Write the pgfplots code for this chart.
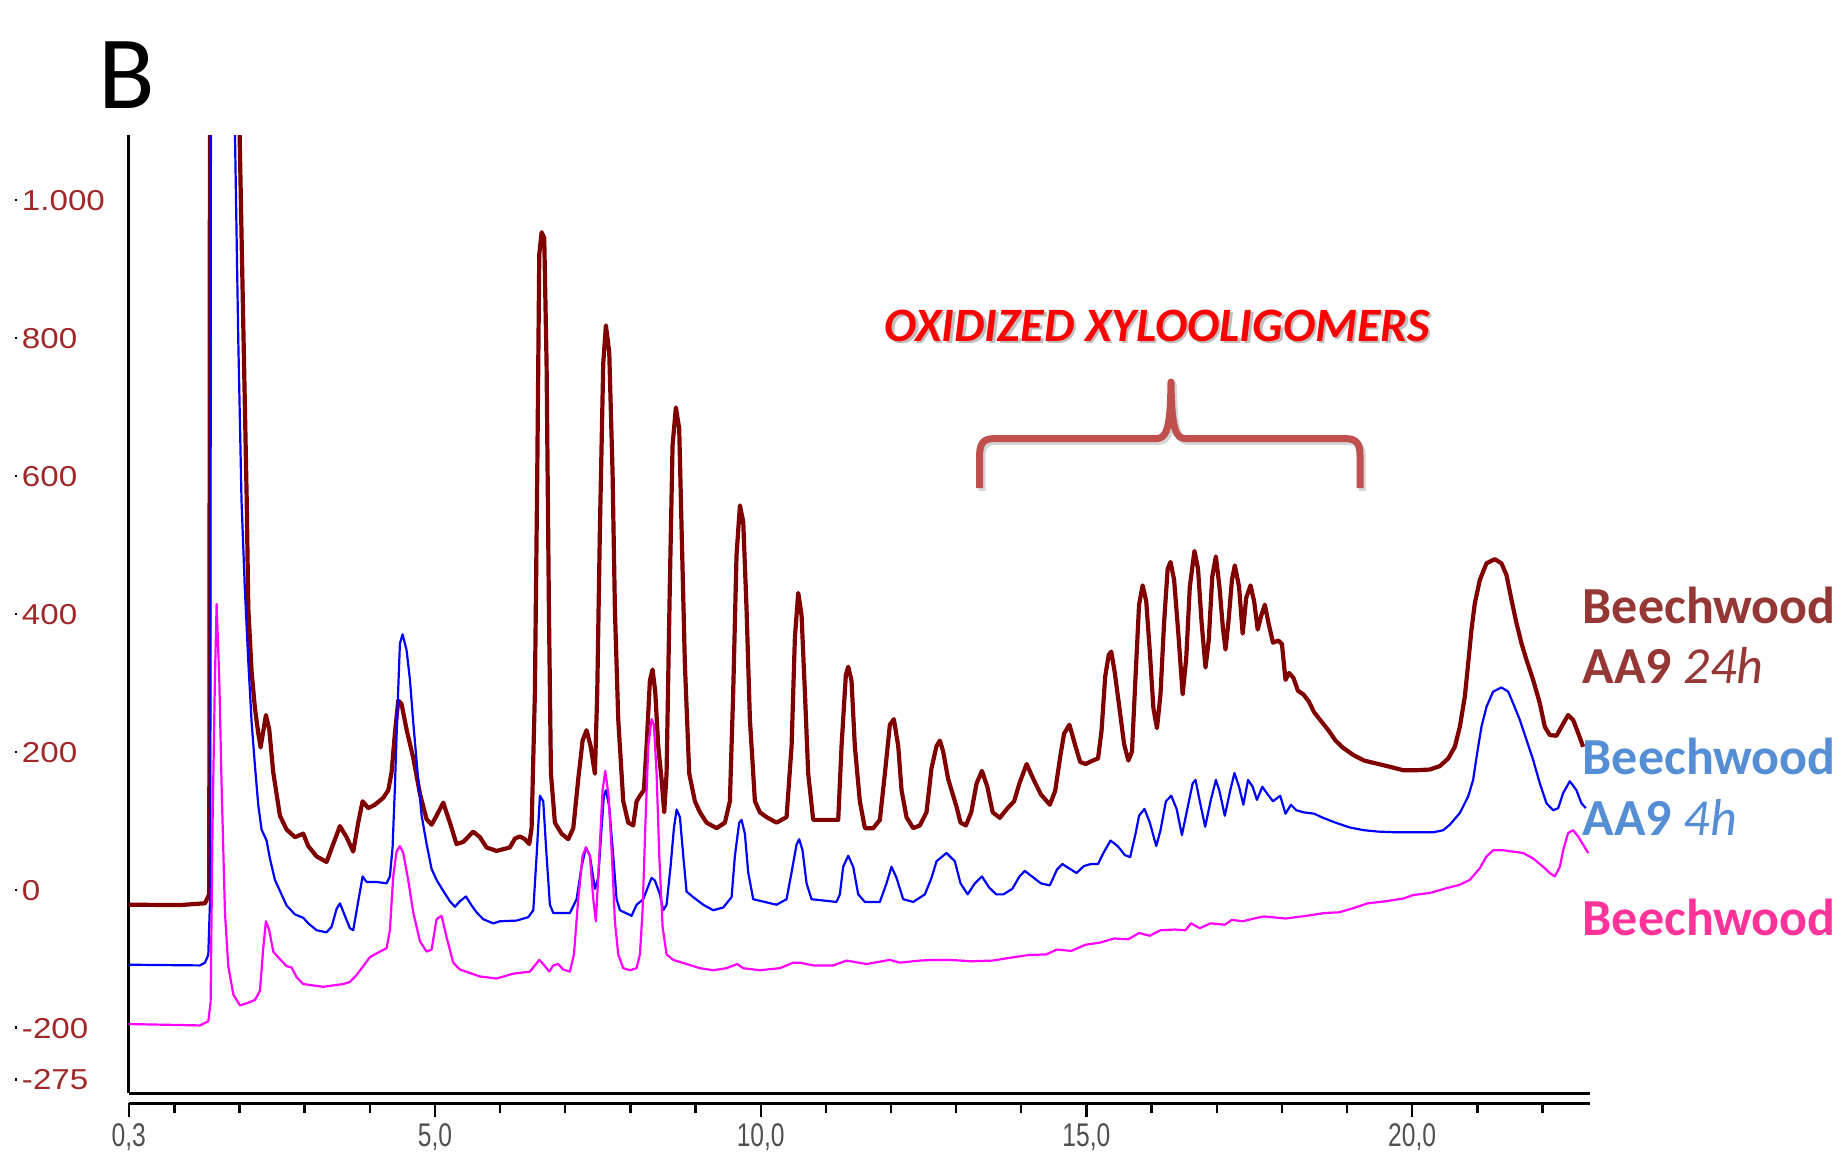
\documentclass[border=0pt]{standalone}
\usepackage{pgfplots}
\pgfplotsset{compat=1.18}
\usepackage{fontspec}
\setmainfont{Carlito}
\newfontfamily\xtickfont[FakeStretch=0.75]{Liberation Sans}
\newfontfamily\ytickfont[FakeStretch=1.15]{Liberation Sans}
\definecolor{trbrown}{RGB}{128,0,0}
\definecolor{trblue}{RGB}{0,0,255}
\definecolor{trpink}{RGB}{255,0,255}
\definecolor{labbrown}{RGB}{149,55,53}
\definecolor{labblue}{RGB}{85,142,213}
\definecolor{labpink}{RGB}{255,51,153}
\definecolor{bracecol}{RGB}{192,80,77}
\definecolor{ylab}{RGB}{160,40,40}
\definecolor{xlab}{RGB}{80,80,80}
\newcommand\yl[1]{\textcolor{black}{\raisebox{2.3pt}{\rule{0.6pt}{0.6pt}}}\hspace{1.2pt}#1}
\begin{document}
\begin{tikzpicture}[x=1pt,y=1pt]
\path (0,0) rectangle (461,293);
\begin{axis}[
  at={(32.2pt,19.75pt)}, anchor=south west,
  scale only axis, width=365.3pt, height=239.5pt,
  xmin=0.3, xmax=22.73, ymin=-294, ymax=1095,
  axis x line*=bottom, axis y line*=left,
  axis line style={line width=0.75pt, black, -},
  tick align=inside,
  xtick={0.3,5,10,15,20},
  xticklabels={{0,3},{5,0},{10,0},{15,0},{20,0}},
  minor xtick={1,2,3,4,6,7,8,9,11,12,13,14,16,17,18,19,21,22},
  major tick length=3.6pt, minor tick length=2.6pt,
  major x tick style={yshift=-6.1pt, line width=0.6pt, black},
  minor x tick style={yshift=-5.1pt, line width=0.6pt, black},
  xticklabel style={anchor=north, inner sep=0pt, yshift=-7.5pt, font=\xtickfont\fontsize{8.2}{9}\selectfont, text=xlab},
  ytick={-275,-200,0,200,400,600,800,1000},
  yticklabels={\yl{-275},\yl{-200},\yl{0},\yl{200},\yl{400},\yl{600},\yl{800},\yl{1.000}},
  ytick style={draw=none},
  yticklabel style={anchor=west, inner sep=0pt, xshift=-28.7pt, font=\ytickfont\fontsize{7.2}{8}\selectfont, text=ylab},
]
\addplot[trbrown, line width=1.05pt, line join=round] coordinates {
(0.3,-21) (1.085,-21.5) (1.469,-18.9) (1.535,-5.9) (1.55,1600) (1.96,1600) (1.98,1200) (2.04,904) (2.09,663) (2.11,566) (2.134,410) (2.185,317) (2.236,264) (2.287,228) (2.323,207) (2.405,254) (2.456,233) (2.517,171) (2.62,108) (2.722,88) (2.85,77) (2.978,82) (3.055,64) (3.183,49) (3.336,41) (3.438,67) (3.541,93) (3.643,77) (3.745,56) (3.822,98) (3.889,129) (3.976,119) (4.078,124) (4.206,134) (4.283,145) (4.334,171) (4.385,228) (4.436,275) (4.487,270) (4.564,233) (4.666,192) (4.769,140) (4.871,103) (4.948,95) (5.024,108) (5.127,127) (5.229,98) (5.331,67) (5.434,70) (5.587,85) (5.689,77) (5.792,62) (5.945,57) (6.15,62) (6.227,75) (6.304,78) (6.381,74) (6.447,67) (6.483,90) (6.534,288) (6.57,605) (6.601,922) (6.637,954) (6.677,946) (6.713,764) (6.749,407) (6.78,169) (6.841,98) (6.943,82) (7.046,74) (7.123,90) (7.199,161) (7.266,217) (7.327,232) (7.389,209) (7.455,169) (7.491,288) (7.532,526) (7.583,764) (7.624,819) (7.675,780) (7.726,605) (7.762,407) (7.813,248) (7.89,129) (7.967,98) (8.043,94) (8.095,129) (8.146,137) (8.207,145) (8.248,209) (8.299,304) (8.34,320) (8.381,288) (8.427,209) (8.478,161) (8.519,113) (8.555,169) (8.606,447) (8.647,645) (8.698,700) (8.749,669) (8.785,526) (8.836,328) (8.903,169) (8.99,129) (9.067,113) (9.169,98) (9.323,90) (9.45,98) (9.527,129) (9.578,288) (9.629,486) (9.681,558) (9.732,534) (9.783,407) (9.834,248) (9.911,129) (9.988,113) (10.09,106) (10.243,98) (10.397,106) (10.474,209) (10.525,367) (10.576,431) (10.627,399) (10.678,288) (10.729,169) (10.806,102) (10.985,102) (11.19,102) (11.241,209) (11.307,312) (11.343,324) (11.394,304) (11.445,209) (11.522,129) (11.599,90) (11.727,90) (11.829,102) (11.906,169) (11.983,240) (12.044,248) (12.111,209) (12.162,145) (12.238,106) (12.341,90) (12.443,94) (12.545,113) (12.622,177) (12.699,209) (12.75,217) (12.801,201) (12.878,161) (13.006,121) (13.067,98) (13.15,94) (13.232,113) (13.314,155) (13.396,173) (13.479,150) (13.561,113) (13.67,105) (13.78,118) (13.89,129) (13.972,155) (14.082,183) (14.191,160) (14.301,139) (14.438,124) (14.52,144) (14.602,196) (14.657,227) (14.739,240) (14.822,212) (14.904,186) (14.986,183) (15.096,188) (15.178,191) (15.233,232) (15.288,310) (15.342,341) (15.381,346) (15.436,315) (15.507,264) (15.578,212) (15.644,188) (15.699,201) (15.754,310) (15.808,414) (15.863,442) (15.918,419) (15.973,346) (16.028,264) (16.083,235) (16.137,284) (16.192,388) (16.247,466) (16.291,476) (16.346,450) (16.411,372) (16.477,284) (16.532,336) (16.587,440) (16.658,492) (16.713,466) (16.768,388) (16.828,323) (16.877,362) (16.932,455) (16.987,484) (17.042,440) (17.097,378) (17.135,349) (17.179,388) (17.234,450) (17.278,471) (17.343,440) (17.398,372) (17.453,424) (17.519,442) (17.574,419) (17.629,378) (17.683,398) (17.738,414) (17.793,388) (17.864,359) (17.946,362) (18.001,357) (18.056,305) (18.111,315) (18.177,308) (18.248,289) (18.33,284) (18.412,274) (18.495,258) (18.604,245) (18.714,232) (18.824,217) (18.933,207) (19.098,196) (19.262,188) (19.482,183) (19.657,179) (19.862,174) (20.067,174) (20.271,175) (20.425,180) (20.553,191) (20.655,208) (20.732,237) (20.809,281) (20.86,329) (20.911,378) (20.962,416) (21.039,450) (21.141,474) (21.269,480) (21.371,474) (21.448,457) (21.525,421) (21.602,387) (21.678,358) (21.755,334) (21.857,305) (21.96,271) (22.036,237) (22.113,225) (22.215,224) (22.292,237) (22.394,254) (22.471,247) (22.548,228) (22.625,208)
};
\addplot[trblue, line width=0.55pt, line join=round] coordinates {
(0.3,-108) (1.392,-109) (1.469,-105) (1.52,-94) (1.545,-21) (1.56,1600) (1.90,1600) (1.93,1095) (1.98,800) (2.03,566) (2.08,440) (2.134,332) (2.185,244) (2.236,181) (2.287,124) (2.338,88) (2.415,72) (2.466,46) (2.543,15) (2.62,-1) (2.722,-22) (2.85,-35) (2.978,-40) (3.055,-48) (3.183,-58) (3.336,-61) (3.413,-53) (3.49,-27) (3.541,-19) (3.617,-37) (3.694,-55) (3.745,-58) (3.822,-16) (3.889,20) (3.95,12) (4.103,12) (4.257,10) (4.308,20) (4.349,62) (4.385,150) (4.421,254) (4.462,358) (4.503,371) (4.564,348) (4.615,306) (4.666,244) (4.728,176) (4.794,109) (4.871,67) (4.948,31) (5.024,15) (5.127,-1) (5.229,-16) (5.306,-24) (5.383,-16) (5.475,-9) (5.562,-22) (5.638,-32) (5.741,-42) (5.894,-48) (5.997,-45) (6.253,-44) (6.432,-39) (6.509,-29) (6.56,50) (6.611,137) (6.662,129) (6.713,50) (6.764,-21) (6.816,-33) (7.071,-33) (7.174,-13) (7.25,34) (7.317,62) (7.378,50) (7.455,2) (7.506,18) (7.557,90) (7.593,137) (7.624,145) (7.675,121) (7.736,50) (7.788,-13) (7.839,-29) (8.018,-37) (8.095,-21) (8.197,-13) (8.274,6) (8.325,18) (8.376,14) (8.453,-6) (8.504,-29) (8.555,-21) (8.616,34) (8.668,90) (8.709,117) (8.76,106) (8.811,50) (8.862,-2) (8.964,-10) (9.118,-21) (9.271,-29) (9.425,-25) (9.553,-10) (9.604,50) (9.67,98) (9.706,102) (9.757,82) (9.808,26) (9.885,-13) (10.243,-21) (10.397,-13) (10.474,26) (10.55,66) (10.591,74) (10.642,58) (10.704,10) (10.78,-13) (11.164,-17) (11.215,-6) (11.266,34) (11.343,50) (11.42,34) (11.497,-6) (11.599,-17) (11.829,-17) (11.931,10) (12.008,34) (12.085,18) (12.187,-13) (12.341,-17) (12.52,-6) (12.622,18) (12.699,42) (12.852,54) (12.98,42) (13.067,10) (13.177,-6) (13.287,10) (13.396,20) (13.506,4) (13.616,-6) (13.725,-6) (13.862,2) (13.972,20) (14.054,28) (14.164,20) (14.301,10) (14.438,7) (14.548,30) (14.63,38) (14.712,33) (14.849,25) (14.959,35) (15.068,38) (15.178,38) (15.26,54) (15.37,72) (15.48,64) (15.589,51) (15.671,48) (15.754,82) (15.808,108) (15.891,118) (15.973,98) (16.072,64) (16.137,87) (16.22,129) (16.302,137) (16.384,118) (16.466,80) (16.549,118) (16.631,155) (16.675,160) (16.74,129) (16.823,92) (16.905,129) (16.987,160) (17.042,144) (17.124,108) (17.206,144) (17.272,170) (17.343,150) (17.409,124) (17.481,160) (17.552,150) (17.617,131) (17.7,150) (17.782,139) (17.864,129) (17.974,137) (18.056,111) (18.139,124) (18.221,116) (18.33,113) (18.495,111) (18.632,105) (18.824,98) (19.043,91) (19.262,87) (19.482,85) (19.76,84) (20.016,84) (20.323,84) (20.476,87) (20.578,95) (20.732,112) (20.86,136) (20.936,160) (20.998,199) (21.064,237) (21.141,266) (21.243,288) (21.371,294) (21.474,288) (21.55,271) (21.653,247) (21.755,218) (21.857,189) (21.96,155) (22.062,126) (22.164,116) (22.241,119) (22.318,141) (22.42,158) (22.522,145) (22.599,126) (22.666,119)
};
\addplot[trpink, line width=0.55pt, line join=round] coordinates {
(0.3,-194) (1.392,-196) (1.52,-190) (1.556,-162) (1.586,98) (1.622,306) (1.648,415) (1.689,306) (1.725,150) (1.776,-32) (1.827,-110) (1.904,-151) (2.006,-167) (2.108,-164) (2.236,-159) (2.313,-146) (2.364,-84) (2.405,-45) (2.456,-58) (2.517,-89) (2.62,-100) (2.722,-110) (2.799,-112) (2.876,-126) (2.978,-136) (3.131,-138) (3.285,-140) (3.438,-138) (3.592,-136) (3.694,-133) (3.796,-123) (3.899,-110) (4.001,-97) (4.155,-89) (4.257,-84) (4.308,-58) (4.359,20) (4.41,56) (4.462,64) (4.513,54) (4.589,15) (4.666,-32) (4.769,-74) (4.871,-89) (4.948,-86) (5.024,-42) (5.101,-37) (5.178,-68) (5.28,-105) (5.383,-115) (5.536,-120) (5.689,-125) (5.945,-128) (6.2,-121) (6.457,-118) (6.534,-109) (6.601,-101) (6.662,-107) (6.754,-118) (6.816,-109) (6.892,-107) (6.969,-115) (7.071,-118) (7.133,-93) (7.199,-13) (7.266,50) (7.317,62) (7.378,50) (7.43,-13) (7.47,-45) (7.522,50) (7.573,145) (7.614,173) (7.665,137) (7.716,50) (7.762,-45) (7.813,-93) (7.89,-113) (7.992,-116) (8.095,-113) (8.146,-93) (8.187,-29) (8.228,90) (8.274,209) (8.325,248) (8.361,240) (8.402,169) (8.443,50) (8.494,-53) (8.555,-93) (8.657,-101) (8.862,-107) (9.067,-113) (9.271,-116) (9.476,-113) (9.64,-107) (9.732,-113) (9.987,-116) (10.294,-113) (10.499,-105) (10.601,-105) (10.806,-109) (11.113,-109) (11.318,-102) (11.625,-107) (11.983,-101) (12.136,-105) (12.443,-102) (12.648,-101) (12.904,-101) (13.232,-103) (13.561,-102) (13.89,-97) (14.109,-94) (14.383,-93) (14.548,-86) (14.767,-88) (14.986,-79) (15.205,-76) (15.425,-70) (15.644,-71) (15.808,-62) (15.973,-66) (16.137,-58) (16.357,-57) (16.521,-58) (16.603,-48) (16.74,-55) (16.905,-48) (17.124,-50) (17.234,-43) (17.398,-45) (17.617,-40) (17.727,-38) (18.056,-41) (18.385,-37) (18.659,-33) (18.878,-32) (19.098,-26) (19.317,-19) (19.591,-16) (19.865,-12) (20.016,-7) (20.271,-4) (20.527,3) (20.732,8) (20.885,15) (21.039,32) (21.141,49) (21.243,58) (21.397,58) (21.55,56) (21.704,54) (21.857,46) (22.011,34) (22.113,25) (22.19,20) (22.267,34) (22.318,58) (22.394,83) (22.471,87) (22.548,78) (22.625,66) (22.702,54)
};
\end{axis}
% ruler line below the axis box
\draw[line width=0.75pt, black] (32.2,17.25) -- (397.5,17.25);
% panel letter
\node[font=\fontsize{26}{30}\selectfont, anchor=center, inner sep=0pt] at (31.75,274.25) {B};
% annotation
\node[font=\bfseries\itshape\fontsize{12}{15}\selectfont, text=black!50, opacity=0.5, inner sep=0pt] at (289.9,211.0) {OXIDIZED XYLOOLIGOMERS};
\node[font=\bfseries\itshape\fontsize{12}{15}\selectfont, text=red, inner sep=0pt] at (289.3,211.6) {OXIDIZED XYLOOLIGOMERS};
\draw[black!40, opacity=0.4, line width=1.75pt, line join=round, shift={(0.6,-0.7)}]
 (244.9,171) -- (244.9,179.1) .. controls (244.9,182.1) and (245.8,183.35) .. (248.5,183.35) -- (289,183.35) .. controls (291.5,183.35) and (292.6,185.3) .. (292.75,197.5) .. controls (292.9,185.3) and (294,183.35) .. (296.5,183.35) -- (336.4,183.35) .. controls (339.1,183.35) and (340,182.1) .. (340,179.1) -- (340,171);
\draw[bracecol, line width=1.75pt, line join=round]
 (244.9,171) -- (244.9,179.1) .. controls (244.9,182.1) and (245.8,183.35) .. (248.5,183.35) -- (289,183.35) .. controls (291.5,183.35) and (292.6,185.3) .. (292.75,197.5) .. controls (292.9,185.3) and (294,183.35) .. (296.5,183.35) -- (336.4,183.35) .. controls (339.1,183.35) and (340,182.1) .. (340,179.1) -- (340,171);
% series labels
\node[anchor=base west, inner sep=0pt, text=labbrown, font=\bfseries\fontsize{13}{15}\selectfont] at (395.5,137.25) {Beechwood};
\node[anchor=base west, inner sep=0pt, text=labbrown, font=\bfseries\fontsize{13}{15}\selectfont] at (395.5,122.25) {AA9 {\mdseries\itshape 24h}};
\node[anchor=base west, inner sep=0pt, text=labblue, font=\bfseries\fontsize{13}{15}\selectfont] at (395.5,99.5) {Beechwood};
\node[anchor=base west, inner sep=0pt, text=labblue, font=\bfseries\fontsize{13}{15}\selectfont] at (395.5,84.25) {AA9 {\mdseries\itshape 4h}};
\node[anchor=base west, inner sep=0pt, text=labpink, font=\bfseries\fontsize{13}{15}\selectfont] at (395.5,59.25) {Beechwood};
\end{tikzpicture}
\end{document}
